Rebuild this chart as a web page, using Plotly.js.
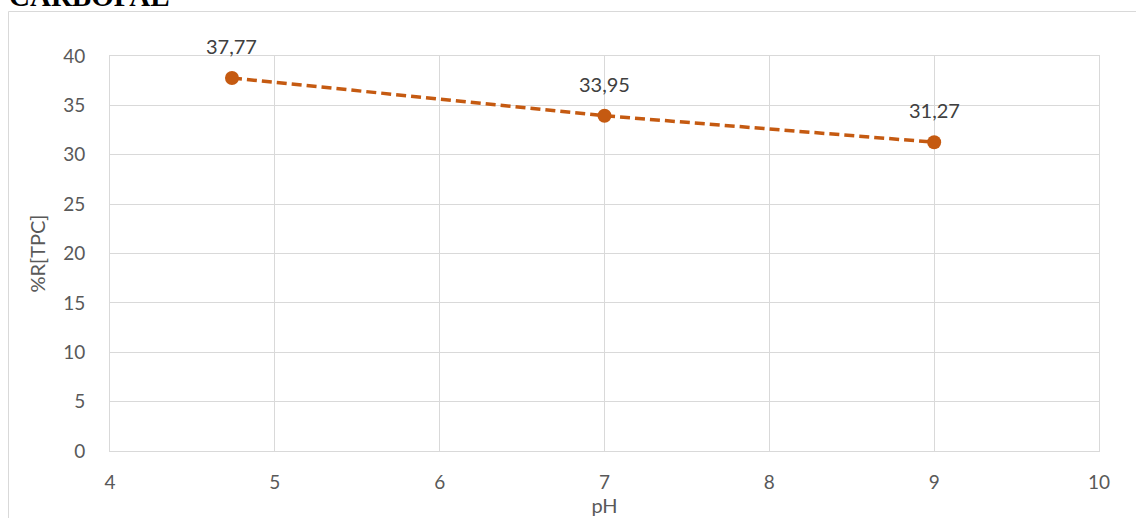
<!DOCTYPE html>
<html>
<head>
<meta charset="utf-8">
<script src="https://cdn.plot.ly/plotly-3.0.1.min.js"></script>
<style>
html,body{margin:0;padding:0;background:#fff;}
#chart{width:1136px;height:518px;}
</style>
</head>
<body>
<div id="chart"></div>
<script>
const chartTitle = "CARBOPAL";
const xTitle = "pH";
const yTitle = "%R[TPC]";
const phValues = [4.74, 7, 9];
const recovery = [37.77, 33.95, 31.27];
const valueLabels = ["37,77", "33,95", "31,27"];

const W = 1136, H = 518;
const M = {l: 110, r: 37, t: 56, b: 67};
const pw = W - M.l - M.r, ph = H - M.t - M.b;
const px = v => (v - M.l) / pw;
const py = v => 1 - (v - M.t) / ph;
const FONT = "Lato, 'Open Sans', sans-serif";

const trace = {
  x: phValues,
  y: recovery,
  type: "scatter",
  mode: "lines+markers",
  line: {color: "#c55a11", width: 3.5, dash: "10px,5px"},
  marker: {color: "#c55a11", size: 14},
  hoverinfo: "skip"
};

const annotations = phValues.map((x, i) => ({
  x: x, y: recovery[i], xref: "x", yref: "y",
  text: valueLabels[i], showarrow: false, yshift: 32,
  font: {family: FONT, size: 20, color: "#404040"}
}));
annotations.push({
  xref: "paper", yref: "paper", x: px(7), y: py(14), xanchor: "left", yanchor: "bottom",
  text: "<b>" + chartTitle + "</b>", showarrow: false,
  font: {family: "'Liberation Serif', 'Times New Roman', serif", size: 29, color: "#000"}
});

const layout = {
  width: W, height: H,
  margin: M,
  paper_bgcolor: "#fff", plot_bgcolor: "#fff",
  showlegend: false,
  font: {family: FONT, size: 19, color: "#595959"},
  xaxis: {
    range: [4, 10], dtick: 1, tick0: 4,
    showgrid: true, gridcolor: "#d9d9d9", gridwidth: 1,
    zeroline: false, showline: true, linecolor: "#d9d9d9", mirror: true,
    ticks: "outside", ticklen: 14, tickcolor: "rgba(0,0,0,0)",
    tickfont: {size: 19, color: "#595959"},
    title: {text: xTitle, standoff: 0, font: {size: 20, color: "#595959"}}
  },
  yaxis: {
    range: [0, 40], dtick: 5, tick0: 0,
    showgrid: true, gridcolor: "#d9d9d9", gridwidth: 1,
    zeroline: false, showline: true, linecolor: "#d9d9d9", mirror: true,
    ticks: "outside", ticklen: 20, tickcolor: "rgba(0,0,0,0)",
    tickfont: {size: 19, color: "#595959"},
    title: {text: yTitle, standoff: 12, font: {size: 20, color: "#595959"}}
  },
  annotations: annotations,
  shapes: [{
    type: "rect", xref: "paper", yref: "paper",
    x0: px(8.5), x1: px(1140), y0: py(11.5), y1: py(530),
    line: {color: "#d9d9d9", width: 1}, fillcolor: "rgba(0,0,0,0)", layer: "below"
  }]
};

Plotly.newPlot("chart", [trace], layout, {displayModeBar: false, staticPlot: true});
</script>
</body>
</html>
